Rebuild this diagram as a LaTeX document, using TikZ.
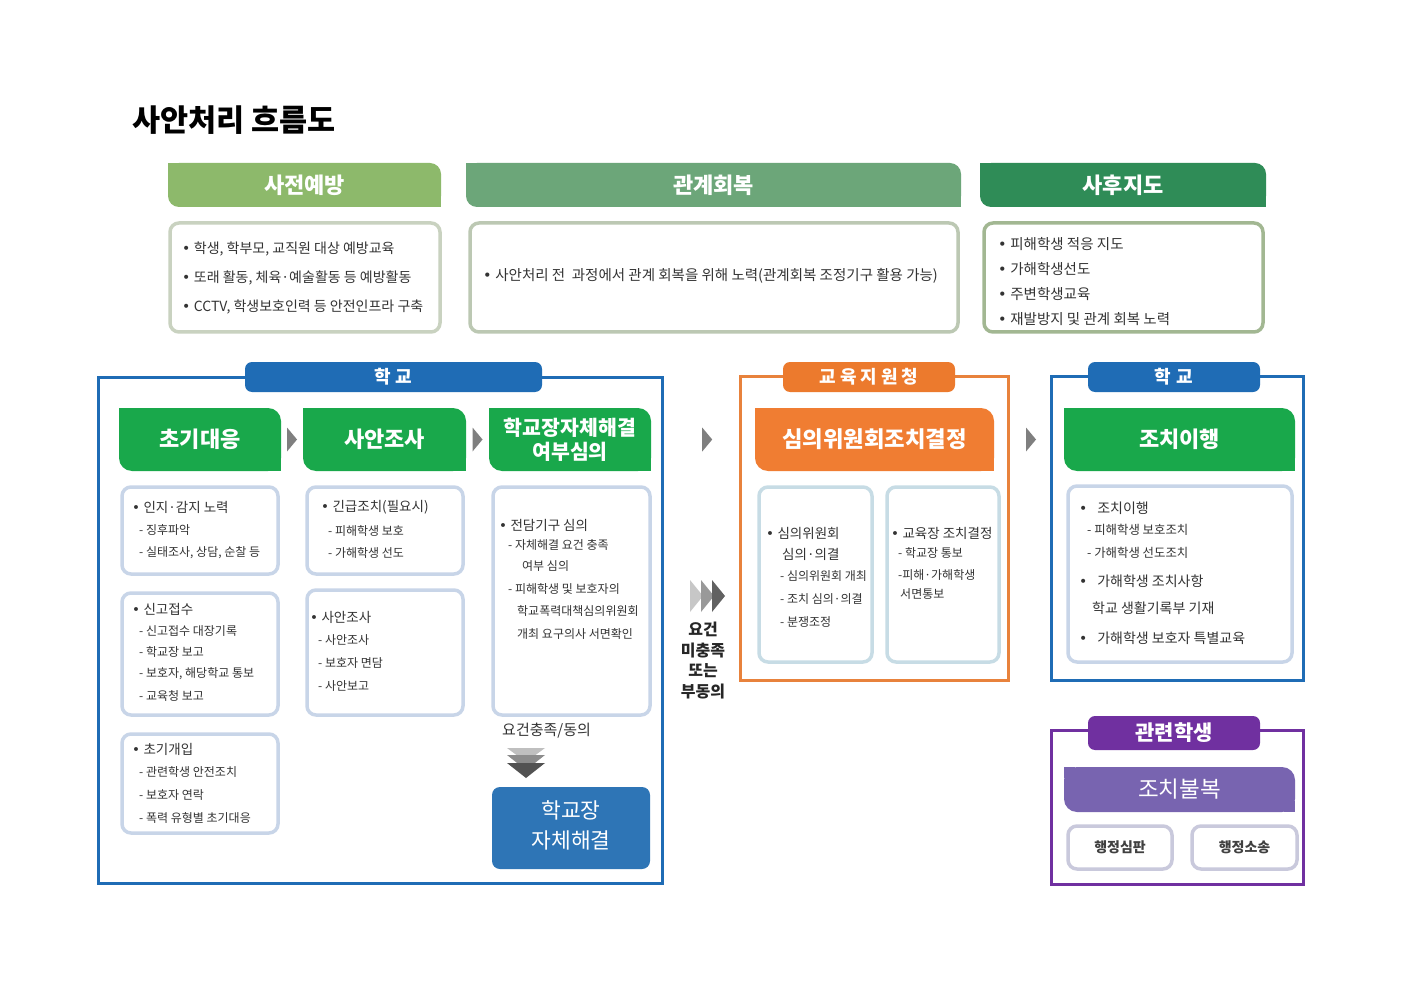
\documentclass[tikz,border=0pt]{standalone}
\usepackage{fontspec}
\setmainfont{Noto Sans CJK KR}
\newfontfamily\djv{DejaVu Sans}
\usetikzlibrary{fit,calc}
\definecolor{tA}{HTML}{8DB96B}
\definecolor{tB}{HTML}{6CA679}
\definecolor{tC}{HTML}{2F8C57}
\definecolor{tbA}{HTML}{C9D2C0}
\definecolor{tbB}{HTML}{BCC8B3}
\definecolor{tbC}{HTML}{A2B792}
\definecolor{gG}{HTML}{19A84B}
\definecolor{bC}{HTML}{1F6CB5}
\definecolor{cbl}{HTML}{C8D5E8}
\definecolor{agr}{HTML}{7F7F7F}
\definecolor{oC}{HTML}{E8823C}
\definecolor{oT}{HTML}{EC7A2D}
\definecolor{oH}{HTML}{F07D32}
\definecolor{obl}{HTML}{C7DCE5}
\definecolor{pC}{HTML}{7030A0}
\definecolor{pH}{HTML}{7864B0}
\definecolor{pbl}{HTML}{C9C9DC}
\definecolor{rbC}{HTML}{2E75B6}
\definecolor{txt}{HTML}{333333}
\newcommand\fsz[1]{\fontsize{#1}{#1}\selectfont}
\newcommand\fszb[2]{\fontsize{#1}{#2}\selectfont}
\newcommand\bul{{\djv •}\hspace{0.25em}}
\newcommand\bulw{{\djv •}\hspace{0.7em}}
\newcommand\sqcorners[3]{%
  \fill[#2] (#1.north west) rectangle ++(#3,#3);
  \fill[#2] (#1.south east) rectangle ++(-#3,-#3);}
\begin{document}
\begin{tikzpicture}[x=1pt,y=-1pt,
  cbox/.style={draw=#1, line width=3.5pt, rounded corners=9pt, fill=white, inner sep=0pt},
  hdr/.style={fill=#1, inner sep=0pt, rounded corners=13pt},
  htxt/.style={inner sep=0pt, text=white, align=center, font=\fsz{22}\bfseries},
  tab/.style={fill=#1, inner sep=0pt, rounded corners=7pt},
  frame/.style={draw=#1, line width=3pt, inner sep=0pt},
  itm/.style={anchor=west, inner sep=0pt, text=txt, font=\fsz{13.5}},
  sub/.style={anchor=west, inner sep=0pt, text=txt, font=\fsz{12}},
  subS/.style={anchor=west, inner sep=0pt, text=txt, font=\fsz{12}}]
\fill[white] (0,0) rectangle (1403,992);
\useasboundingbox (0,0) rectangle (1403,992);

% title
\node[anchor=west, inner sep=0pt, font=\fsz{30.5}\bfseries] (title) at (132,120) {사안처리 흐름도};

% top row headers
\node[hdr=tA, rounded corners=11pt, fit={(168,163) (441,207)}] (pre) {};
\sqcorners{pre}{tA}{11}
\node[htxt] (preT) at (pre.center) {사전예방};
\node[hdr=tB, rounded corners=11pt, fit={(466,163) (961,207)}] (rel) {};
\sqcorners{rel}{tB}{11}
\node[htxt] (relT) at (rel.center) {관계회복};
\node[hdr=tC, rounded corners=11pt, fit={(980,163) (1266,207)}] (post) {};
\sqcorners{post}{tC}{11}
\node[htxt] (postT) at (post.center) {사후지도};

% top row boxes
\node[cbox=tbA, fit={(170,223) (440,332)}] (preb) {};
\node[itm, font=\fsz{14}] (pre1) at (182,249) {\bul 학생, 학부모, 교직원 대상 예방교육};
\node[itm, font=\fsz{14}] (pre2) at (182,278) {\bul 또래 활동, 체육·예술활동 등 예방활동};
\node[itm, font=\fsz{14}] (pre3) at (182,307) {\bul CCTV, 학생보호인력 등 안전인프라 구축};

\node[cbox=tbB, fit={(470,223) (958,332)}] (relb) {};
\node[itm, font=\fsz{14.5}] (rel1) at (483,276) {\bul 사안처리 전\ \ 과정에서 관계 회복을 위해\ 노력(관계회복 조정기구 활용 가능)};

\node[cbox=tbC, fit={(984,223) (1263,332)}] (postb) {};
\node[itm, font=\fsz{14.5}] (post1) at (998,244) {\bul 피해학생 적응 지도};
\node[itm, font=\fsz{14.5}] (post2) at (998,269) {\bul 가해학생선도};
\node[itm, font=\fsz{14.5}] (post3) at (998,294) {\bul 주변학생교육};
\node[itm, font=\fsz{14.5}] (post4) at (998,319) {\bul 재발방지 및 관계 회복 노력};

% ===== left school frame =====
\node[frame=bC, fit={(98.5,377) (662.5,883)}] (sch) {};
\node[tab=bC, fit={(245,362) (542,392)}] (schtab) {};
\node[htxt, font=\fsz{18}\bfseries] (schT) at (schtab.center) {학\hspace{5pt}교};

\node[hdr=gG, fit={(119,408) (281,471)}] (h1) {};
\sqcorners{h1}{gG}{13}
\node[htxt] (h1T) at (h1.center) {초기대응};
\node[hdr=gG, fit={(303,408) (466,471)}] (h2) {};
\sqcorners{h2}{gG}{13}
\node[htxt] (h2T) at (h2.center) {사안조사};
\node[hdr=gG, fit={(489,408) (651,471)}] (h3) {};
\sqcorners{h3}{gG}{13}
\node[htxt, font=\fszb{20.5}{24}\bfseries] (h3T) at (h3.center) {학교장자체해결\\여부심의};

\fill[agr] ($(h1.east)!.5!(h2.west)+(-5,-12)$) -- ++(10,12) -- ++(-10,12) -- cycle;
\fill[agr] ($(h2.east)!.5!(h3.west)+(-5,-12)$) -- ++(10,12) -- ++(-10,12) -- cycle;

% column 1
\node[cbox=cbl, fit={(122,487) (278,574)}] (c11) {};
\node[itm] (c11a) at (132,507) {\bul 인지·감지 노력};
\node[sub] (c11b) at (139,530) {- 징후파악};
\node[sub] (c11c) at (139,553) {- 실태조사, 상담, 순찰 등};

\node[cbox=cbl, fit={(122,593) (278,715)}] (c12) {};
\node[itm] (c12a) at (132,609) {\bul 신고접수};
\node[sub] (c12b) at (139,631) {- 신고접수 대장기록};
\node[sub] (c12c) at (139,652) {- 학교장 보고};
\node[sub] (c12d) at (139,674) {- 보호자, 해당학교 통보};
\node[sub] (c12e) at (139,696) {- 교육청 보고};

\node[cbox=cbl, fit={(122,734) (278,833)}] (c13) {};
\node[itm] (c13a) at (132,749) {\bul 초기개입};
\node[sub] (c13b) at (139,772) {- 관련학생 안전조치};
\node[sub] (c13c) at (139,795) {- 보호자 연락};
\node[sub] (c13d) at (139,818) {- 폭력 유형별 초기대응};

% column 2
\node[cbox=cbl, fit={(307,487) (463,574)}] (c21) {};
\node[itm] (c21a) at (321,507) {\bul 긴급조치(필요시)};
\node[sub] (c21b) at (328,531) {- 피해학생 보호};
\node[sub] (c21c) at (328,553) {- 가해학생 선도};

\node[cbox=cbl, fit={(307,590) (463,715)}] (c22) {};
\node[itm] (c22a) at (310,617) {\bul 사안조사};
\node[sub] (c22b) at (318,640) {- 사안조사};
\node[sub] (c22c) at (318,663) {- 보호자 면담};
\node[sub] (c22d) at (318,686) {- 사안보고};

% column 3
\node[cbox=cbl, fit={(493,487) (650,715)}] (c31) {};
\node[itm] (c31a) at (499,525) {\bul 전담기구 심의};
\node[subS] (c31b) at (508,545) {- 자체해결 요건 충족};
\node[subS] (c31c) at (522,566) {여부 심의};
\node[subS] (c31d) at (508,589) {- 피해학생 및 보호자의};
\node[subS] (c31e) at (517,611) {학교폭력대책심의위원회};
\node[subS] (c31f) at (517,634) {개최 요구의사 서면확인};

\node[anchor=west, inner sep=0pt, text=txt, font=\fsz{15}] (agree) at (502,731) {요건충족/동의};
\fill[black!25] (507,748) -- (545,748) -- (526,762) -- cycle;
\fill[black!45] (507,755) -- (545,755) -- (526,770) -- cycle;
\fill[black!68] (507,763) -- (545,763) -- (526,778) -- cycle;

\node[fill=rbC, rounded corners=8pt, inner sep=0pt, fit={(492,787) (650,869)}] (self) {};
\node[inner sep=0pt, text=white, align=center, font=\fszb{21.5}{30}] (selfT) at ($(self.center)+(0,-3)$) {학교장\\자체해결};

% middle arrows
\fill[agr] ($(h3.east)+(51,-12)$) -- ++(10,12) -- ++(-10,12) -- cycle;
\coordinate (chev) at (690,580);
\fill[black!22] (chev) -- ++(13,16) -- ++(-13,16) -- cycle;
\fill[black!40] ($(chev)+(11,0)$) -- ++(13,16) -- ++(-13,16) -- cycle;
\fill[black!62] ($(chev)+(22,0)$) -- ++(13,16) -- ++(-13,16) -- cycle;
\node[inner sep=0pt, align=center, font=\fszb{16}{20.5}\bfseries, text=black!85] (unmet) at (703,660.5) {요건\\미충족\\또는\\부동의};

% ===== orange frame =====
\node[frame=oC, fit={(740.5,376.5) (1008.5,680.5)}] (edu) {};
\node[tab=oT, fit={(783,362) (955,392)}] (edutab) {};
\node[htxt, font=\fsz{18}\bfseries] (eduT) at (edutab.center) {교\hspace{4pt}육\hspace{4pt}지\hspace{4pt}원\hspace{4pt}청};
\node[hdr=oH, fit={(755,408) (994,471)}] (h4) {};
\sqcorners{h4}{oH}{13}
\node[htxt, font=\fsz{22.3}\bfseries] (h4T) at (h4.center) {심의위원회조치결정};
\node[cbox=obl, fit={(759,487) (872,662)}] (c41) {};
\node[itm] (c41a) at (766,533) {\bul 심의위원회};
\node[itm] (c41b) at (782,554) {심의·의결};
\node[subS] (c41c) at (780,576) {- 심의위원회 개최};
\node[subS] (c41d) at (780,599) {- 조치 심의·의결};
\node[subS] (c41e) at (780,622) {- 분쟁조정};
\node[cbox=obl, fit={(887,487) (999,662)}] (c42) {};
\node[itm] (c42a) at (891,533) {\bul 교육장 조치결정};
\node[subS] (c42b) at (898,553) {- 학교장 통보};
\node[subS] (c42c) at (898,575) {-피해·가해학생};
\node[subS] (c42d) at (900,594) {서면통보};

% ===== right school frame =====
\node[frame=bC, fit={(1051.5,376.5) (1303.5,680.5)}] (sch2) {};
\node[tab=bC, fit={(1088,362) (1260,392)}] (sch2tab) {};
\node[htxt, font=\fsz{18}\bfseries] (sch2T) at (sch2tab.center) {학\hspace{5pt}교};
\node[hdr=gG, fit={(1064,408) (1295,471)}] (h5) {};
\sqcorners{h5}{gG}{13}
\node[htxt] (h5T) at (h5.center) {조치이행};

\fill[agr] ($(h4.east)!.5!(h5.west)+(-3,-12)$) -- ++(10,12) -- ++(-10,12) -- cycle;

\node[cbox=cbl, fit={(1068,486) (1292,662)}] (c51) {};
\node[itm, font=\fsz{14}] (c51a) at (1079,508) {\bulw 조치이행};
\node[sub, font=\fsz{12.4}] (c51b) at (1087,530) {- 피해학생 보호조치};
\node[sub, font=\fsz{12.4}] (c51c) at (1087,553) {- 가해학생 선도조치};
\node[itm, font=\fsz{14}] (c51d) at (1079,581) {\bulw 가해학생 조치사항};
\node[itm, font=\fsz{14}] (c51e) at (1092,608) {학교 생활기록부 기재};
\node[itm, font=\fsz{14}] (c51f) at (1079,638) {\bulw 가해학생 보호자 특별교육};

% ===== purple frame =====
\node[frame=pC, fit={(1051.5,730.5) (1303.5,884.5)}] (rel2) {};
\node[tab=pC, fit={(1088,716) (1260,750)}] (rel2tab) {};
\node[htxt, font=\fsz{21}\bfseries] (rel2T) at (rel2tab.center) {관련학생};
\node[hdr=pH, fit={(1064,767) (1295,812)}] (h6) {};
\sqcorners{h6}{pH}{11}
\node[htxt, font=\fsz{22.5}] (h6T) at (h6.center) {조치불복};
\node[cbox=pbl, fit={(1068,826) (1172,869)}] (appeal) {};
\node[inner sep=0pt, text=black!75, font=\fsz{14}\bfseries] (appealT) at (appeal.center) {행정심판};
\node[cbox=pbl, fit={(1192,826) (1297,869)}] (suit) {};
\node[inner sep=0pt, text=black!75, font=\fsz{14}\bfseries] (suitT) at (suit.center) {행정소송};
\end{tikzpicture}
\end{document}
